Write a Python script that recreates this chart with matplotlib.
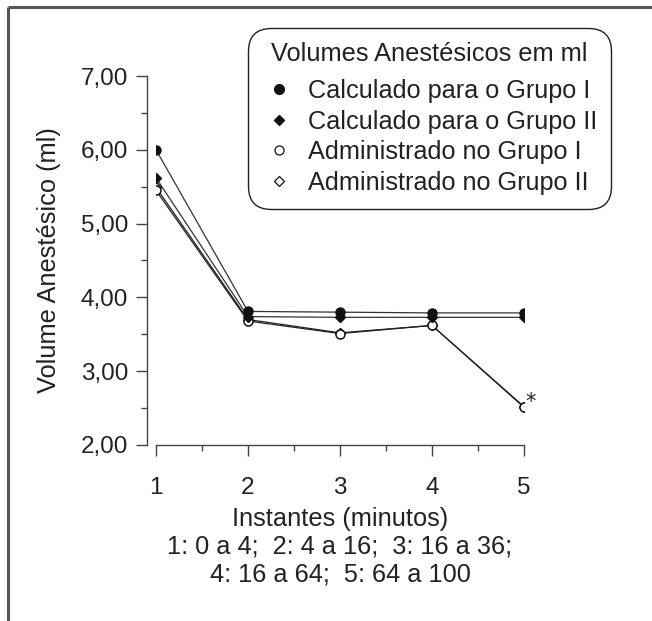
import matplotlib
matplotlib.use("Agg")
import matplotlib.pyplot as plt
from matplotlib.lines import Line2D
from matplotlib.ticker import MultipleLocator

plt.rcParams['font.family'] = ['Liberation Sans', 'DejaVu Sans']

# ---- data ----
instantes = [1, 2, 3, 4, 5]
calc_grupo1 = [6.00, 3.81, 3.80, 3.79, 3.79]
calc_grupo2 = [5.62, 3.74, 3.73, 3.73, 3.73]
adm_grupo1 = [5.45, 3.68, 3.51, 3.62, 2.51]
adm_grupo2 = [5.49, 3.70, 3.52, 3.62, 2.52]
y_ticks = [2, 3, 4, 5, 6, 7]
y_ticklabels = ["2,00", "3,00", "4,00", "5,00", "6,00", "7,00"]
labels = ["Calculado para o Grupo I", "Calculado para o Grupo II",
          "Administrado no Grupo I", "Administrado no Grupo II"]
legend_title = "Volumes Anestésicos em ml"
xlabel = "Instantes (minutos)\n1: 0 a 4;  2: 4 a 16;  3: 16 a 36;\n4: 16 a 64;  5: 64 a 100"
ylabel = "Volume Anestésico (ml)"
signif_label = "*"

TXT = '#222222'
AX = '#444444'

fig = plt.figure(figsize=(6.52, 6.21), dpi=100)
ax = fig.add_axes([156/652, 1-445/621, 368/652, 369/621])

lw = 0.9
ax.plot(instantes, adm_grupo2, color='#222222', lw=lw, marker='D', ms=5,
        mfc='white', mec='#111111', mew=1, zorder=2)
ax.plot(instantes, adm_grupo1, color='#222222', lw=lw, marker='o', ms=6.5,
        mfc='white', mec='#111111', mew=1.1, zorder=3)
ax.plot(instantes, calc_grupo2, color='#333333', lw=lw, marker='D', ms=5,
        mfc='#111111', mec='#111111', zorder=4)
ax.plot(instantes, calc_grupo1, color='#333333', lw=lw, marker='o', ms=6.5,
        mfc='#111111', mec='#111111', zorder=5)

# significance mark next to the last administered point
ax.annotate(signif_label, xy=(instantes[-1], adm_grupo1[-1]), xytext=(4.8, -0.5),
            textcoords='offset points', fontsize=15, color=TXT,
            ha='center', va='baseline', family='DejaVu Sans')

ax.set_xlim(1, 5)
ax.set_ylim(2, 7)
ax.set_xticks(instantes)
ax.set_xticklabels([str(i) for i in instantes])
ax.xaxis.set_minor_locator(MultipleLocator(0.5))
ax.set_yticks(y_ticks)
ax.set_yticklabels(y_ticklabels)
ax.yaxis.set_minor_locator(MultipleLocator(0.5))

for s in ['top', 'right']:
    ax.spines[s].set_visible(False)
ax.spines['left'].set_position(('outward', 6.5))
for s in ['left', 'bottom']:
    ax.spines[s].set_color(AX)
    ax.spines[s].set_linewidth(1.0)

ax.tick_params(axis='both', which='major', direction='out', length=8, width=1,
               color=AX, labelsize=17.5, labelcolor=TXT)
ax.tick_params(axis='both', which='minor', direction='out', length=4.2, width=1, color=AX)
ax.tick_params(axis='x', which='major', pad=15)
ax.tick_params(axis='y', which='major', pad=5.5)

ax.set_xlabel(xlabel, fontsize=18.3, color=TXT, linespacing=1.18, labelpad=6)
ax.set_ylabel(ylabel, fontsize=18.3, color=TXT, labelpad=14)

handles = [
    Line2D([], [], ls='none', marker='o', ms=7, mfc='#111111', mec='#111111'),
    Line2D([], [], ls='none', marker='D', ms=5, mfc='#111111', mec='#111111'),
    Line2D([], [], ls='none', marker='o', ms=6.5, mfc='white', mec='#111111', mew=0.9),
    Line2D([], [], ls='none', marker='D', ms=5, mfc='white', mec='#111111', mew=0.9),
]
leg = fig.legend(handles, labels, title=legend_title, loc='upper left',
                 bbox_to_anchor=(248/652, 1-28/621), bbox_transform=fig.transFigure,
                 fontsize=18.2, title_fontsize=18.3, frameon=True, fancybox=True,
                 handlelength=1.35, handletextpad=0.47, labelspacing=0.26,
                 borderpad=0.55, borderaxespad=0)
leg._legend_box.sep = 9.5
for t in leg.get_texts():
    t.set_color(TXT)
leg.get_title().set_color(TXT)
fr = leg.get_frame()
fr.set_edgecolor('#222222')
fr.set_linewidth(1.0)
fr.set_facecolor('white')
fr.set_alpha(1)
fr.set_boxstyle('round', pad=0, rounding_size=0.9)

# outer frame (top and left edges)
fig.add_artist(Line2D([8/652, 1], [1-6.5/621, 1-6.5/621], transform=fig.transFigure,
                      color='#555555', lw=2.2, solid_capstyle='butt'))
fig.add_artist(Line2D([8/652, 8/652], [0, 1-6.5/621], transform=fig.transFigure,
                      color='#555555', lw=2.2, solid_capstyle='butt'))

fig.savefig('out.png', dpi=100)
